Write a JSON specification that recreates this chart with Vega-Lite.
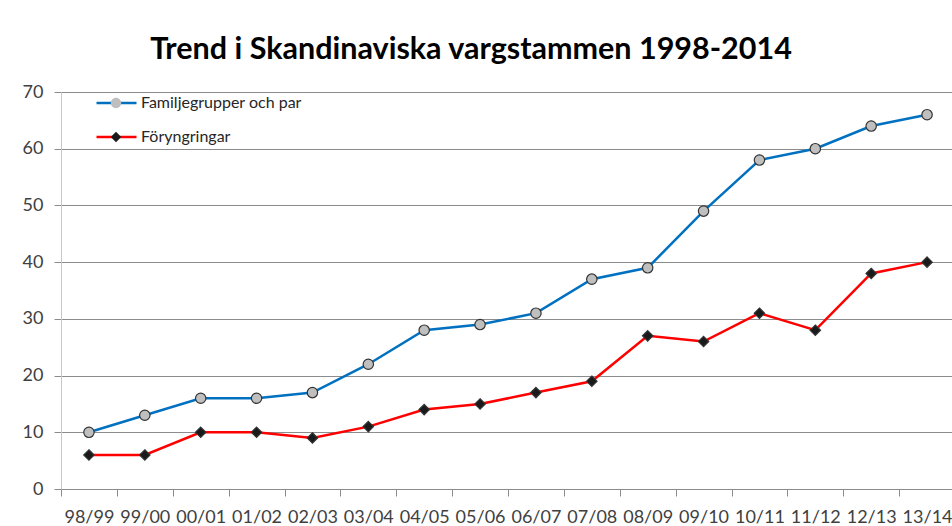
{
  "$schema": "https://vega.github.io/schema/vega-lite/v6.json",
  "width": 894,
  "height": 397,
  "autosize": {"type": "none"},
  "padding": {"left": 61, "top": 92, "right": 0, "bottom": 37},
  "background": "white",
  "title": {
    "text": "Trend i Skandinaviska vargstammen 1998-2014",
    "font": "Lato",
    "fontSize": 30.5,
    "fontWeight": "bold",
    "color": "#000000",
    "anchor": "middle",
    "frame": "group",
    "dx": -37,
    "baseline": "alphabetic",
    "offset": -6
  },
  "data": {
    "values": [
      {"period": "98/99", "series": "Familjegrupper och par", "value": 10},
      {"period": "99/00", "series": "Familjegrupper och par", "value": 13},
      {"period": "00/01", "series": "Familjegrupper och par", "value": 16},
      {"period": "01/02", "series": "Familjegrupper och par", "value": 16},
      {"period": "02/03", "series": "Familjegrupper och par", "value": 17},
      {"period": "03/04", "series": "Familjegrupper och par", "value": 22},
      {"period": "04/05", "series": "Familjegrupper och par", "value": 28},
      {"period": "05/06", "series": "Familjegrupper och par", "value": 29},
      {"period": "06/07", "series": "Familjegrupper och par", "value": 31},
      {"period": "07/08", "series": "Familjegrupper och par", "value": 37},
      {"period": "08/09", "series": "Familjegrupper och par", "value": 39},
      {"period": "09/10", "series": "Familjegrupper och par", "value": 49},
      {"period": "10/11", "series": "Familjegrupper och par", "value": 58},
      {"period": "11/12", "series": "Familjegrupper och par", "value": 60},
      {"period": "12/13", "series": "Familjegrupper och par", "value": 64},
      {"period": "13/14", "series": "Familjegrupper och par", "value": 66},
      {"period": "98/99", "series": "Föryngringar", "value": 6},
      {"period": "99/00", "series": "Föryngringar", "value": 6},
      {"period": "00/01", "series": "Föryngringar", "value": 10},
      {"period": "01/02", "series": "Föryngringar", "value": 10},
      {"period": "02/03", "series": "Föryngringar", "value": 9},
      {"period": "03/04", "series": "Föryngringar", "value": 11},
      {"period": "04/05", "series": "Föryngringar", "value": 14},
      {"period": "05/06", "series": "Föryngringar", "value": 15},
      {"period": "06/07", "series": "Föryngringar", "value": 17},
      {"period": "07/08", "series": "Föryngringar", "value": 19},
      {"period": "08/09", "series": "Föryngringar", "value": 27},
      {"period": "09/10", "series": "Föryngringar", "value": 26},
      {"period": "10/11", "series": "Föryngringar", "value": 31},
      {"period": "11/12", "series": "Föryngringar", "value": 28},
      {"period": "12/13", "series": "Föryngringar", "value": 38},
      {"period": "13/14", "series": "Föryngringar", "value": 40}
    ]
  },
  "encoding": {
    "x": {
      "field": "period",
      "type": "ordinal",
      "bandPosition": 0.5,
      "scale": {
        "type": "band",
        "paddingInner": 0,
        "paddingOuter": 0,
        "domain": ["98/99","99/00","00/01","01/02","02/03","03/04","04/05","05/06","06/07","07/08","08/09","09/10","10/11","11/12","12/13","13/14"]
      },
      "axis": {
        "title": null,
        "labelAngle": 0,
        "tickBand": "extent",
        "grid": false,
        "labelFont": "Lato",
        "labelFontSize": 18,
        "labelColor": "#404040",
        "domainColor": "#8c8c8c",
        "tickColor": "#8c8c8c",
        "tickSize": 7,
        "labelPadding": 12
      }
    },
    "y": {
      "field": "value",
      "type": "quantitative",
      "scale": {"domain": [0, 70], "nice": false},
      "axis": {
        "title": null,
        "values": [0, 10, 20, 30, 40, 50, 60, 70],
        "grid": true,
        "gridColor": "#8c8c8c",
        "labelFont": "Lato",
        "labelFontSize": 18,
        "labelColor": "#404040",
        "domainColor": "#c8c8c8",
        "tickColor": "#8c8c8c",
        "tickSize": 7,
        "labelPadding": 11
      }
    }
  },
  "layer": [
    {
      "mark": {"type": "line", "strokeWidth": 2.5},
      "encoding": {
        "color": {
          "field": "series",
          "type": "nominal",
          "scale": {"domain": ["Familjegrupper och par", "Föryngringar"], "range": ["#0070c0", "#ff0000"]},
          "legend": {
            "title": null,
            "orient": "none",
            "direction": "vertical",
            "columns": 1,
            "legendX": 34,
            "legendY": -6,
            "padding": 0,
            "symbolSize": 1600,
            "clipHeight": 34,
            "rowPadding": 0,
            "symbolType": "stroke",
            "symbolStrokeWidth": 2.5,
            "labelFont": "Lato",
            "labelFontSize": 16,
            "labelLimit": 400,
            "labelColor": "#262626",
            "labelOffset": 3
          }
        }
      }
    },
    {
      "mark": {"type": "point", "filled": true, "size": 1600, "opacity": 1, "stroke": "#333333", "strokeWidth": 1.2},
      "encoding": {
        "fill": {
          "field": "series",
          "type": "nominal",
          "scale": {"range": ["#bfbfbf", "#1a1a1a"]},
          "legend": {
            "title": null,
            "orient": "none",
            "direction": "vertical",
            "columns": 1,
            "legendX": 34,
            "legendY": -6,
            "padding": 0,
            "symbolSize": 1600,
            "clipHeight": 34,
            "rowPadding": 0,
            "symbolStrokeColor": "#333333",
            "symbolStrokeWidth": 1.2,
            "labelFont": "Lato",
            "labelFontSize": 16,
            "labelLimit": 400,
            "labelColor": "#262626",
            "labelOpacity": 0,
            "labelOffset": 3
          }
        },
        "shape": {
          "field": "series",
          "type": "nominal",
          "scale": {
            "range": ["M0.26,0A0.26,0.26,0,1,1,-0.26,0A0.26,0.26,0,1,1,0.26,0Z", "M0,-0.26L0.26,0L0,0.26L-0.26,0Z"]
          },
          "legend": {
            "title": null,
            "orient": "none",
            "direction": "vertical",
            "columns": 1,
            "legendX": 34,
            "legendY": -6,
            "padding": 0,
            "symbolSize": 1600,
            "clipHeight": 34,
            "rowPadding": 0,
            "symbolStrokeColor": "#333333",
            "symbolStrokeWidth": 1.2,
            "labelFont": "Lato",
            "labelFontSize": 16,
            "labelLimit": 400,
            "labelColor": "#262626",
            "labelOpacity": 0,
            "labelOffset": 3
          }
        }
      }
    }
  ],
  "config": {
    "view": {"stroke": null}
  }
}
